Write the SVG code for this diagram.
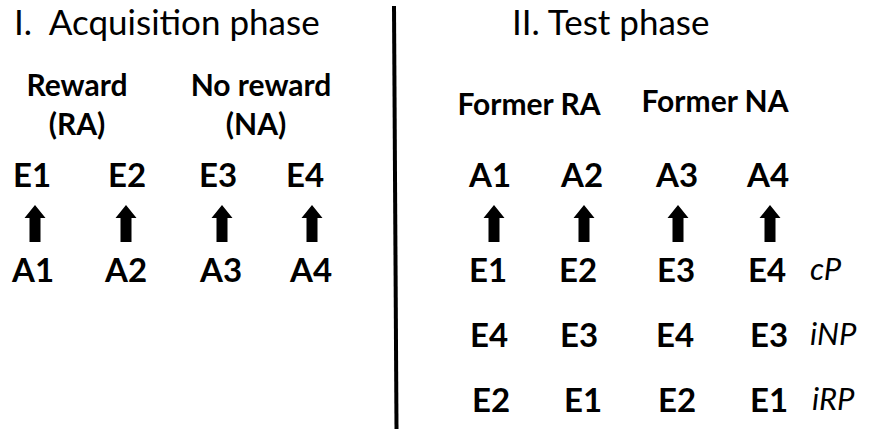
<svg xmlns="http://www.w3.org/2000/svg" xmlns:xlink="http://www.w3.org/1999/xlink" width="871" height="430" viewBox="0 0 871 430">
<style>
text{font-family:Lato,"Open Sans","Noto Sans",sans-serif;fill:#000}
.title{font-size:35px;font-weight:400}
.head{font-size:30px;font-weight:700;text-anchor:middle}
.lab{font-size:33px;font-weight:700;text-anchor:middle}
.it{font-size:31px;font-style:italic;font-weight:400}
</style>
<defs>
<path id="arr" d="M0,0 L10.5,13 L5.5,13 L5.5,37 L-5.5,37 L-5.5,13 L-10.5,13 Z" fill="#000"/>
</defs>
<rect width="871" height="430" fill="#fff"/>
<g id="divider"><line x1="394" y1="6" x2="396.5" y2="429" stroke="#000" stroke-width="4"/></g>
<g id="title-acq"><text class="title" x="14" y="35" xml:space="preserve">I.  Acquisition phase</text></g>
<g id="title-test"><text class="title" x="512" y="35">II. Test phase</text></g>
<g id="head-ra"><text class="head" x="77" y="96">Reward</text><text class="head" x="77" y="135">(RA)</text></g>
<g id="head-na"><text class="head" x="261" y="96">No reward</text><text class="head" x="256" y="135">(NA)</text></g>
<g id="head-fra"><text class="head" x="529" y="115">Former RA</text></g>
<g id="head-fna"><text class="head" x="715" y="112">Former NA</text></g>
<g id="acq-e"><text class="lab" x="32" y="187">E1</text><text class="lab" x="127" y="187">E2</text><text class="lab" x="218" y="187">E3</text><text class="lab" x="305" y="187">E4</text></g>
<g id="acq-a"><text class="lab" x="33" y="282">A1</text><text class="lab" x="126" y="282">A2</text><text class="lab" x="221" y="282">A3</text><text class="lab" x="311" y="282">A4</text></g>
<g id="test-a"><text class="lab" x="490" y="187">A1</text><text class="lab" x="582" y="187">A2</text><text class="lab" x="677" y="187">A3</text><text class="lab" x="768" y="187">A4</text></g>
<g id="test-cp"><text class="lab" x="488" y="282">E1</text><text class="lab" x="578" y="282">E2</text><text class="lab" x="676" y="282">E3</text><text class="lab" x="767" y="282">E4</text><text class="it" x="810" y="280">cP</text></g>
<g id="test-inp"><text class="lab" x="489" y="347">E4</text><text class="lab" x="579" y="347">E3</text><text class="lab" x="675" y="347">E4</text><text class="lab" x="769" y="347">E3</text><text class="it" x="810" y="345">iNP</text></g>
<g id="test-irp"><text class="lab" x="491" y="412">E2</text><text class="lab" x="583" y="412">E1</text><text class="lab" x="677" y="412">E2</text><text class="lab" x="769" y="412">E1</text><text class="it" x="812" y="410">iRP</text></g>
<g id="connectors">
<use xlink:href="#arr" x="35" y="205"/>
<use xlink:href="#arr" x="126" y="205"/>
<use xlink:href="#arr" x="222" y="205"/>
<use xlink:href="#arr" x="312" y="205"/>
<use xlink:href="#arr" x="494" y="205"/>
<use xlink:href="#arr" x="584" y="205"/>
<use xlink:href="#arr" x="678" y="205"/>
<use xlink:href="#arr" x="770" y="205"/>
</g>
</svg>
